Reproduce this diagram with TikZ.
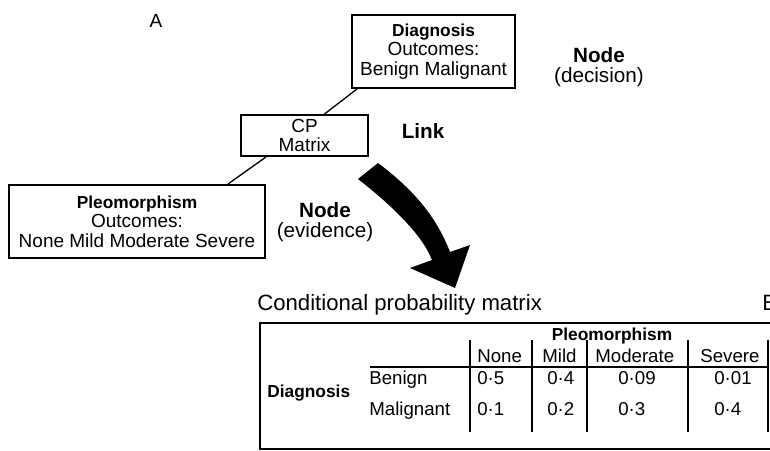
\documentclass[tikz,border=0pt]{standalone}
\usepackage{fontspec}
\setmainfont{Liberation Sans}
\usetikzlibrary{calc}
\newcommand{\hd}[1]{{\fontsize{10.4}{11.6}\selectfont\bfseries #1}}
\tikzset{
  bnbox/.style={
    rectangle, draw=black, line width=1.2pt,
    align=center, inner sep=0pt,
    font=\fontsize{11.4}{11.6}\selectfont
  },
  bnlink/.style={line width=0.8pt, color=black},
  bnlabel/.style={
    align=center, inner sep=0pt,
    font=\fontsize{12.4}{11.8}\selectfont
  },
  tabtext/.style={anchor=base west, inner sep=0pt, font=\fontsize{11.2}{12}\selectfont},
  tabframe/.style={line width=1.2pt},
  tabrule/.style={line width=1pt},
}
\begin{document}
\begin{tikzpicture}[x=0.6pt, y=-0.6pt]
  \useasboundingbox (0,0) rectangle (770,451);
      % network part
      \node[bnlabel, font=\fontsize{11.4}{12}\selectfont](lblA) at (156,21) {A};
      \node[bnbox, minimum width=97.8pt, minimum height=43.8pt](diag) at (433.5,51.5) {\hd{Diagnosis}\\Outcomes:\\Benign Malignant};
      \node[bnbox, minimum width=76.2pt, minimum height=24.6pt](cp) at (304.5,135.5) {CP\\Matrix};
      \node[bnbox, minimum width=153.6pt, minimum height=43.8pt](pleo) at (137,221.5) {\hd{Pleomorphism}\\Outcomes:\\None Mild Moderate Severe};
      \draw[bnlink]($(diag.south west)+(6,0)$)--($(cp.north)+(20,0)$);
      \draw[bnlink]($(cp.south west)+(26,0)$)--($(pleo.north)+(91,0)$);
      \node[bnlabel](nodedec) at (599,67) {\textbf{Node}\\(decision)};
      \node[bnlabel](link) at (423,131) {\textbf{Link}};
      \node[bnlabel](nodeev) at (325,222) {\textbf{Node}\\(evidence)};
      % big arrow
      \fill (378,163) .. controls (418,193) and (438,221) .. (450,252) -- (470,245) -- (455,288)
            -- (410,268) -- (432,260) .. controls (422,234) and (390,204) .. (358,179) -- cycle;
      % matrix part
      \node[tabtext, font=\fontsize{13.3}{14}\selectfont](cpmtitle) at (257,311) {Conditional probability matrix};
      \node[tabtext, font=\fontsize{13.3}{14}\selectfont](lblB) at (762,311) {B};
      \draw[tabframe] (260,323) rectangle (800,449);
      \draw[tabrule] (370,367) -- (768,367);
      \foreach \x in {470,532,587,688,768} \draw[tabrule] (\x,340) -- (\x,432);
      \node[tabtext, anchor=base](thpleo) at (612,340) {\hd{Pleomorphism}};
      \node[tabtext](thnone) at (477,362) {None};
      \node[tabtext](thmild) at (542,362) {Mild};
      \node[tabtext](thmod) at (595,362) {Moderate};
      \node[tabtext](thsev) at (700,362) {Severe};
      \node[tabtext](thdiag) at (267,397) {\hd{Diagnosis}};
      \node[tabtext](rben) at (369,385) {Benign};
      \node[tabtext](rmal) at (369,415) {Malignant};
      \node[tabtext](b1) at (477,385) {0·5};
      \node[tabtext](b2) at (547,385) {0·4};
      \node[tabtext](b3) at (618,385) {0·09};
      \node[tabtext](b4) at (714,385) {0·01};
      \node[tabtext](m1) at (477,415) {0·1};
      \node[tabtext](m2) at (547,415) {0·2};
      \node[tabtext](m3) at (618,415) {0·3};
      \node[tabtext](m4) at (714,415) {0·4};
    \end{tikzpicture}
\end{document}
